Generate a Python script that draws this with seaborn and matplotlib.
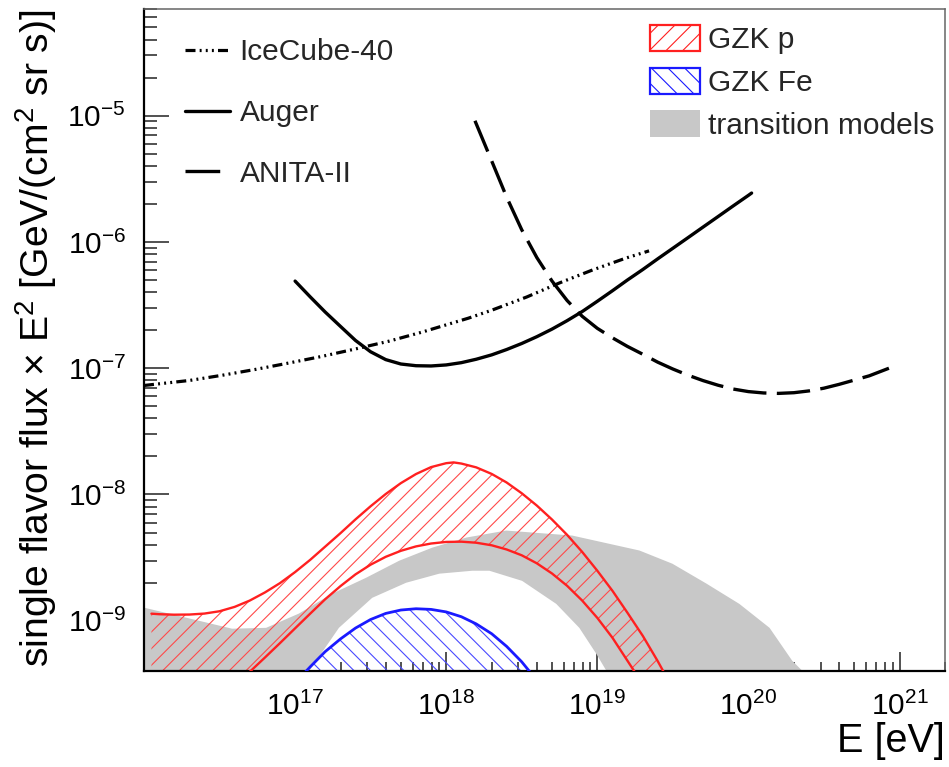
import numpy as np
import matplotlib
matplotlib.use("Agg")
import matplotlib.pyplot as plt
import matplotlib.patches as mpatches
from matplotlib.lines import Line2D
from matplotlib.ticker import FixedLocator, LogLocator, NullFormatter
import seaborn as sns

# ---- sensitivity curves: energy [eV] and E^2-weighted flux [GeV/(cm^2 sr s)] ----
icecube_E = [1.0e16, 2.0e16, 3.3e16, 5.5e16, 9.1e16, 1.5e17, 2.5e17, 4.2e17,
             6.9e17, 1.4e18, 2.0e18, 3.4e18, 5.6e18, 9.3e18, 1.55e19, 2.2e19]
icecube_F = [7.3e-8, 8.0e-8, 8.8e-8, 9.8e-8, 1.10e-7, 1.24e-7, 1.42e-7, 1.64e-7,
             1.93e-7, 2.49e-7, 2.88e-7, 3.66e-7, 4.73e-7, 6.0e-7, 7.46e-7, 8.5e-7]

auger_E = [1.0e17, 1.26e17, 1.58e17, 2.0e17, 2.51e17, 3.16e17, 3.98e17, 5.01e17,
           6.31e17, 7.94e17, 1.0e18, 1.26e18, 1.58e18, 2.0e18, 2.51e18, 3.16e18,
           3.98e18, 5.01e18, 6.31e18, 7.94e18, 1.0e19, 1.26e19, 1.58e19, 2.0e19,
           2.51e19, 3.16e19, 3.98e19, 5.01e19, 6.31e19, 7.94e19, 1.0e20, 1.05e20]
auger_F = [4.90e-7, 3.67e-7, 2.79e-7, 2.14e-7, 1.66e-7, 1.35e-7, 1.17e-7, 1.08e-7,
           1.047e-7, 1.042e-7, 1.062e-7, 1.107e-7, 1.178e-7, 1.276e-7, 1.406e-7, 1.570e-7,
           1.778e-7, 2.04e-7, 2.38e-7, 2.81e-7, 3.39e-7, 4.11e-7, 4.99e-7, 6.05e-7,
           7.35e-7, 8.91e-7, 1.081e-6, 1.312e-6, 1.592e-6, 1.932e-6, 2.34e-6, 2.44e-6]

anita_E = [1.55e18, 2.0e18, 2.51e18, 3.16e18, 3.98e18, 5.01e18, 6.31e18, 7.94e18,
           1.0e19, 1.26e19, 1.58e19, 2.0e19, 2.51e19, 3.16e19, 3.98e19, 5.01e19,
           6.31e19, 7.94e19, 1.0e20, 1.26e20, 1.58e20, 2.0e20, 2.51e20, 3.16e20,
           3.98e20, 5.01e20, 6.31e20, 8.51e20]
anita_F = [9.12e-6, 4.38e-6, 2.27e-6, 1.25e-6, 7.52e-7, 4.91e-7, 3.44e-7, 2.58e-7,
           2.07e-7, 1.74e-7, 1.49e-7, 1.29e-7, 1.117e-7, 9.86e-8, 8.81e-8, 7.98e-8,
           7.33e-8, 6.84e-8, 6.53e-8, 6.37e-8, 6.32e-8, 6.40e-8, 6.61e-8, 6.95e-8,
           7.45e-8, 8.05e-8, 8.71e-8, 1.0e-7]

# ---- cosmogenic flux bands ----
gzkp_hi_E = [1.12e16, 1.26e16, 1.58e16, 2.0e16, 2.51e16, 3.16e16, 3.98e16, 5.01e16,
             6.31e16, 7.94e16, 1.0e17, 1.26e17, 1.58e17, 2.0e17, 2.51e17, 3.16e17,
             3.98e17, 5.01e17, 6.31e17, 7.94e17, 1.0e18, 1.12e18, 1.26e18, 1.58e18,
             2.0e18, 2.51e18, 3.16e18, 3.98e18, 5.01e18, 6.31e18, 7.94e18, 1.0e19,
             1.26e19, 1.58e19, 2.0e19, 2.51e19, 2.82e19]
gzkp_hi_F = [1.138e-9, 1.127e-9, 1.117e-9, 1.12e-9, 1.14e-9, 1.189e-9, 1.288e-9, 1.445e-9,
             1.675e-9, 1.986e-9, 2.43e-9, 3.04e-9, 3.86e-9, 4.95e-9, 6.35e-9, 8.07e-9,
             1.009e-8, 1.23e-8, 1.452e-8, 1.648e-8, 1.77e-8, 1.795e-8, 1.758e-8, 1.64e-8,
             1.455e-8, 1.245e-8, 1.023e-8, 8.17e-9, 6.34e-9, 4.79e-9, 3.51e-9, 2.49e-9,
             1.726e-9, 1.161e-9, 7.59e-10, 4.79e-10, 3.72e-10]
gzkp_lo_E = [1.12e16, 3.98e16, 5.01e16, 6.31e16, 7.94e16, 1.0e17, 1.26e17, 1.58e17,
             2.0e17, 2.51e17, 3.16e17, 3.98e17, 5.01e17, 6.31e17, 7.94e17, 1.0e18,
             1.26e18, 1.58e18, 2.0e18, 2.51e18, 3.16e18, 3.98e18, 5.01e18, 6.31e18,
             7.94e18, 1.0e19, 1.26e19, 1.58e19, 1.78e19]
gzkp_lo_F = [6.3e-11, 3.02e-10, 3.94e-10, 5.11e-10, 6.65e-10, 8.71e-10, 1.14e-9, 1.479e-9,
             1.884e-9, 2.33e-9, 2.78e-9, 3.21e-9, 3.58e-9, 3.88e-9, 4.09e-9, 4.21e-9,
             4.23e-9, 4.15e-9, 3.96e-9, 3.67e-9, 3.30e-9, 2.85e-9, 2.37e-9, 1.892e-9,
             1.445e-9, 1.054e-9, 7.33e-10, 4.84e-10, 3.89e-10]

gzkfe_E = [1.12e17, 1.26e17, 1.58e17, 2.0e17, 2.51e17, 3.16e17, 3.98e17, 5.01e17,
           6.31e17, 7.94e17, 1.0e18, 1.26e18, 1.58e18, 2.0e18, 2.51e18, 3.16e18, 3.72e18]
gzkfe_F = [3.72e-10, 4.32e-10, 5.69e-10, 7.19e-10, 8.75e-10, 1.023e-9, 1.143e-9, 1.216e-9,
           1.245e-9, 1.230e-9, 1.175e-9, 1.076e-9, 9.44e-10, 7.89e-10, 6.27e-10, 4.73e-10,
           3.72e-10]
gzkfe_floor = 1.0e-10

trans_hi_E = [1.0e16, 2.31e16, 3.83e16, 6.43e16, 1.06e17, 1.76e17, 2.95e17, 4.89e17,
              8.07e17, 1.36e18, 2.49e18, 6.82e18, 1.90e19, 3.14e19, 5.27e19, 8.71e19,
              1.38e20, 1.95e20, 2.28e20]
trans_hi_F = [1.27e-9, 1.0e-9, 8.65e-10, 8.79e-10, 1.14e-9, 1.64e-9, 2.19e-9, 2.99e-9,
              3.79e-9, 4.56e-9, 5.18e-9, 4.73e-9, 3.60e-9, 2.83e-9, 1.97e-9, 1.36e-9,
              8.79e-10, 4.82e-10, 4.0e-10]
trans_lo_E = [1.0e16, 1.24e17, 1.24e17, 1.95e17, 3.24e17, 5.43e17, 9.0e17, 1.49e18,
              1.93e18, 3.18e18, 5.35e18, 7.60e18, 9.85e18, 1.15e19]
trans_lo_F = [1.0e-10, 1.0e-10, 4.0e-10, 8.79e-10, 1.52e-9, 2.0e-9, 2.36e-9, 2.49e-9,
              2.49e-9, 2.07e-9, 1.36e-9, 8.79e-10, 5.47e-10, 4.0e-10]

x_ticks = [1e17, 1e18, 1e19, 1e20, 1e21]
y_ticks = [1e-9, 1e-8, 1e-7, 1e-6, 1e-5]

# ---- style ----
sns.set_theme(style="ticks")
plt.rcParams["font.family"] = ["Liberation Sans", "DejaVu Sans"]
plt.rcParams["mathtext.fontset"] = "custom"
plt.rcParams["mathtext.rm"] = "Liberation Sans"
plt.rcParams["mathtext.it"] = "Liberation Sans:italic"
plt.rcParams["mathtext.bf"] = "Liberation Sans:bold"
plt.rcParams["axes.unicode_minus"] = False
plt.rcParams["hatch.linewidth"] = 0.8
plt.rcParams["lines.scale_dashes"] = False

fig = plt.figure(figsize=(9.49, 7.67), dpi=100)
ax = fig.add_axes([144 / 949, 96 / 767, 801 / 949, 662 / 767])
ax.set_xscale("log")
ax.set_yscale("log")
ax.set_xlim(1e16, 2e21)
ax.set_ylim(4e-10, 7e-5)

red = "#ff2020"
blue = "#1a1aff"
grey = "#c8c8c8"

# transition-model band
ax.fill(np.concatenate([trans_hi_E, trans_lo_E[::-1]]),
        np.concatenate([trans_hi_F, trans_lo_F[::-1]]),
        facecolor=grey, edgecolor="none", linewidth=0, zorder=1)

# GZK proton band (hatched)
ax.fill(np.concatenate([gzkp_hi_E, gzkp_lo_E[::-1]]),
        np.concatenate([gzkp_hi_F, gzkp_lo_F[::-1]]),
        facecolor="none", edgecolor="#ff4a4a", hatch="//", linewidth=0, zorder=2)
sns.lineplot(x=gzkp_hi_E, y=gzkp_hi_F, ax=ax, color=red, linewidth=1.7,
             sort=False, estimator=None, legend=False, zorder=3)
sns.lineplot(x=gzkp_lo_E, y=gzkp_lo_F, ax=ax, color=red, linewidth=1.7,
             sort=False, estimator=None, legend=False, zorder=3)

# GZK iron band (hatched)
ax.fill(np.concatenate([gzkfe_E, [gzkfe_E[-1], gzkfe_E[0]]]),
        np.concatenate([gzkfe_F, [gzkfe_floor, gzkfe_floor]]),
        facecolor="none", edgecolor="#4a4aff", hatch="\\\\", linewidth=0, zorder=2)
sns.lineplot(x=gzkfe_E, y=gzkfe_F, ax=ax, color=blue, linewidth=2.0,
             sort=False, estimator=None, legend=False, zorder=3)

# experimental limits
ic_style = (0, (7.2, 3.0, 1.4, 3.0, 1.4, 3.0, 1.4, 3.0))
anita_style = (0, (24, 7.5))
sns.lineplot(x=icecube_E, y=icecube_F, ax=ax, color="black", linewidth=2.3,
             linestyle=ic_style, sort=False, estimator=None, legend=False, zorder=4)
sns.lineplot(x=auger_E, y=auger_F, ax=ax, color="black", linewidth=2.4,
             sort=False, estimator=None, legend=False, zorder=4)
sns.lineplot(x=anita_E, y=anita_F, ax=ax, color="black", linewidth=2.4,
             linestyle=anita_style, sort=False, estimator=None, legend=False, zorder=4)

# axes, ticks
ax.xaxis.set_major_locator(FixedLocator(x_ticks))
ax.yaxis.set_major_locator(FixedLocator(y_ticks))
for axis in (ax.xaxis, ax.yaxis):
    axis.set_minor_locator(LogLocator(base=10, subs=np.arange(2, 10), numticks=30))
    axis.set_minor_formatter(NullFormatter())
ax.tick_params(which="both", direction="in", top=False, right=False,
               color="#222222", width=1.1, labelsize=21.5, labelcolor="black")
ax.tick_params(axis="x", which="major", length=14, pad=15)
ax.tick_params(axis="x", which="minor", length=6.5)
ax.tick_params(axis="y", which="major", length=18, pad=13)
ax.tick_params(axis="y", which="minor", length=9.5)

for side in ("left", "bottom"):
    ax.spines[side].set_color("black")
    ax.spines[side].set_linewidth(1.6)
for side in ("top", "right"):
    ax.spines[side].set_color("#666666")
    ax.spines[side].set_linewidth(1.1)

ax.set_xlabel("E [eV]", loc="right", fontsize=28.5, labelpad=1, color="black")
ax.set_ylabel("single flavor flux \u00d7 E$^{2}$ [GeV/(cm$^{2}$ sr s)]",
              loc="top", fontsize=28.2, labelpad=6, color="black")

# legends
line_handles = [
    Line2D([], [], color="black", linewidth=2.3, linestyle=ic_style),
    Line2D([], [], color="black", linewidth=2.4),
    Line2D([], [], color="black", linewidth=2.4, linestyle=(0, (25, 30))),
]
leg1 = ax.legend(line_handles, ["IceCube-40", "Auger", "ANITA-II"],
                 loc="upper left", bbox_to_anchor=(0.051, 0.956), frameon=False,
                 fontsize=21.5, handlelength=1.5, handletextpad=0.33,
                 labelspacing=1.1, borderpad=0, borderaxespad=0)
ax.add_artist(leg1)

band_handles = [
    mpatches.Patch(facecolor="white", edgecolor=red, hatch="//", linewidth=1.6),
    mpatches.Patch(facecolor="white", edgecolor=blue, hatch="\\\\", linewidth=1.6),
    mpatches.Patch(facecolor=grey, edgecolor="none", linewidth=0),
]
ax.legend(band_handles, ["GZK p", "GZK Fe", "transition models"],
          loc="upper left", bbox_to_anchor=(0.632, 0.976), frameon=False,
          fontsize=21.5, handlelength=1.68, handleheight=0.97, handletextpad=0.27,
          labelspacing=0.45, borderpad=0, borderaxespad=0)

fig.savefig("out.png", dpi=100)
